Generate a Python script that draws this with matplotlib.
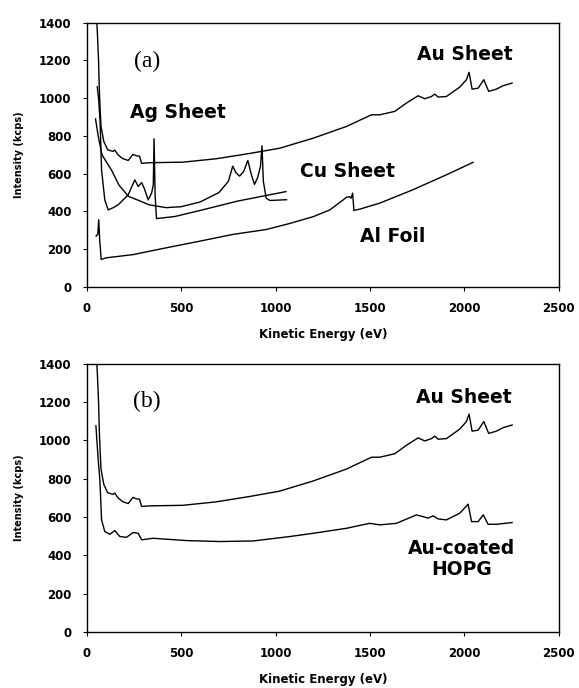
import matplotlib.pyplot as plt
import numpy as np

# Au sheet spectrum (kinetic energy in eV, intensity in kcps)
au_e = [52, 56, 62, 66, 70, 75, 90, 110, 138, 148, 165, 190, 219, 244, 262, 279, 290, 332,
        509, 685, 862, 1022, 1199, 1375, 1508, 1552, 1631, 1693, 1755, 1790, 1826, 1843,
        1861, 1905, 1976, 2011, 2025, 2041, 2073, 2103, 2129, 2170, 2205, 2253]
au_i = [1420, 1340, 1200, 1050, 950, 850, 770, 727, 718, 725, 700, 680, 670, 702, 695, 693, 655, 658,
        661, 679, 707, 735, 788, 850, 912, 912, 930, 974, 1013, 997, 1009, 1022,
        1006, 1009, 1059, 1098, 1137, 1048, 1053, 1098, 1036, 1048, 1066, 1080]

# Ag sheet
ag_e = [55, 62, 70, 78, 95, 113, 140, 166, 219, 254, 272, 290, 305, 325, 343, 352, 356, 362,
        369, 466, 600, 800, 1055]
ag_i = [1060, 1000, 880, 620, 461, 408, 420, 435, 488, 567, 532, 553, 520, 461, 497, 540, 785, 480,
        362, 373, 405, 455, 505]

# Cu sheet
cu_e = [46, 60, 80, 130, 170, 220, 270, 330, 420, 500, 600, 700, 750, 773, 790, 809, 830, 853,
        870, 888, 905, 920, 928, 935, 950, 970, 1058]
cu_i = [890, 800, 700, 620, 540, 480, 460, 435, 420, 425, 450, 500, 560, 640, 605, 587, 610, 670,
        600, 543, 580, 640, 748, 560, 470, 458, 462]

# Al foil
al_e = [49, 58, 63, 68, 76, 102, 244, 420, 597, 773, 950, 1074, 1199, 1287, 1358, 1375, 1392,
        1400, 1408, 1415, 1446, 1552, 1728, 1905, 2046]
al_i = [269, 280, 356, 250, 145, 154, 171, 207, 242, 278, 304, 336, 372, 408, 461, 475, 478,
        470, 497, 405, 412, 444, 515, 594, 660]

# Au-coated HOPG
hopg_e = [48, 60, 69, 78, 95, 122, 148, 175, 210, 245, 272, 290, 351, 528, 705, 881, 1075, 1199,
          1375, 1498, 1552, 1640, 1746, 1781, 1808, 1834, 1861, 1905, 1976, 2020, 2038, 2073,
          2100, 2126, 2170, 2253]
hopg_i = [1076, 900, 794, 585, 524, 510, 529, 498, 494, 519, 515, 481, 489, 477, 472, 475, 498, 515,
          541, 567, 559, 567, 611, 602, 594, 606, 590, 585, 620, 667, 576, 576,
          611, 562, 562, 571]

xticks = [0, 500, 1000, 1500, 2000, 2500]
yticks = [0, 200, 400, 600, 800, 1000, 1200, 1400]

fig = plt.figure(figsize=(5.79, 6.88), dpi=100)
ax1 = fig.add_axes([0.150, 0.583, 0.815, 0.384])
ax2 = fig.add_axes([0.150, 0.0814, 0.815, 0.390])

bold = dict(family='DejaVu Sans', fontweight='bold')

for ax in (ax1, ax2):
    ax.set_xlim(0, 2500)
    ax.set_ylim(0, 1400)
    ax.set_xticks(xticks)
    ax.set_yticks(yticks)
    ax.tick_params(direction='out', length=3, width=0.8, pad=8, labelsize=8.5)
    for lab in ax.get_xticklabels() + ax.get_yticklabels():
        lab.set_fontweight('bold')
    for s in ax.spines.values():
        s.set_linewidth(1.0)
    ax.set_xlabel('Kinetic Energy (eV)', fontsize=8.5, labelpad=9, **bold)
    ax.set_ylabel('Intensity (kcps)', fontsize=7, labelpad=11, **bold)

kw = dict(color='black', lw=1.0)
ax1.plot(au_e, au_i, **kw)
ax1.plot(ag_e, ag_i, **kw)
ax1.plot(cu_e, cu_i, **kw)
ax1.plot(al_e, al_i, **kw)
ax1.text(318, 1193, '(a)', family='Liberation Serif', fontsize=17, ha='center', va='center')
ax1.text(228, 923, 'Ag Sheet', fontsize=13.5, ha='left', va='center', **bold)
ax1.text(1748, 1230, 'Au Sheet', fontsize=13.5, ha='left', va='center', **bold)
ax1.text(1128, 610, 'Cu Sheet', fontsize=13.5, ha='left', va='center', **bold)
ax1.text(1446, 265, 'Al Foil', fontsize=13.5, ha='left', va='center', **bold)

ax2.plot(au_e, au_i, **kw)
ax2.plot(hopg_e, hopg_i, **kw)
ax2.text(318, 1201, '(b)', family='Liberation Serif', fontsize=17, ha='center', va='center')
ax2.text(1743, 1222, 'Au Sheet', fontsize=13.5, ha='left', va='center', **bold)
ax2.text(1986, 382, 'Au-coated\nHOPG', fontsize=13.5, ha='center', va='center',
         linespacing=1.1, **bold)

fig.savefig('out.png', dpi=100)
